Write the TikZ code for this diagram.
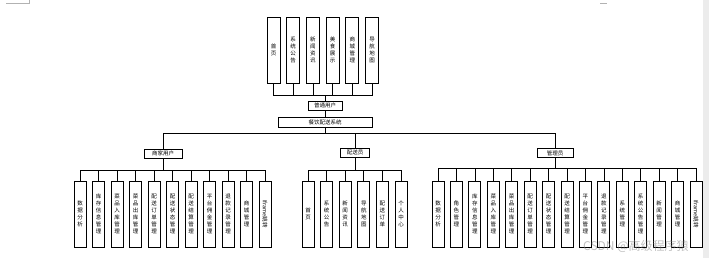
\documentclass[tikz,border=0pt]{standalone}
\usepackage{fontspec}
\usepackage{graphicx}
\newfontfamily\cjk{Noto Sans CJK SC}
\XeTeXlinebreaklocale "zh"
\XeTeXlinebreakskip=0pt plus 1pt
\newcommand{\iframetext}{\rotatebox{-90}{Iframe跳转}}
\tikzset{
  leaf/.style={draw, line width=0.9pt, minimum width=12pt, minimum height=66pt,
    inner sep=0pt, text width=6pt, align=center,
    font=\cjk\fontsize{5.5}{7}\selectfont},
  head/.style={draw, line width=0.9pt, minimum height=9pt, inner sep=1pt,
    font=\cjk\fontsize{5.5}{6}\selectfont},
  link/.style={line width=0.7pt},
}
\begin{document}
\begin{tikzpicture}[x=1pt, y=-1pt]
    \useasboundingbox (0,0) rectangle (709,258);

    % =================================================================
    % PAGE EDGE AND CROP MARKS
    % =================================================================
    \fill[gray!15] (703,0) rectangle (709,258);
    \draw[gray!60, line width=0.6pt] (6,3) -- (29,3) -- (29,0);
    \draw[gray!60, line width=0.6pt] (600,3) -- (607,3);

    % =================================================================
    % PART 1: ORDINARY USER (ABOVE THE SYSTEM BOX)
    % =================================================================
    \node[head, minimum width=34pt] (user) at (325,105.5) {普通用户};
    \node[head, minimum width=94pt, minimum height=10pt] (sys) at (325,122) {餐饮配送系统};
    \draw[link] (user.south) -- (sys.north);

    \foreach \t [count=\i] in {首页,系统公告,新闻资讯,美食展示,商城管理,导航地图} {
        \node[leaf, minimum width=13pt] (u\i) at ({273.5+19.7*(\i-1)},50) {\t};
        \draw[link] (user.north) -- (user.north |- 0,95) -| (u\i.south);
    }

    % =================================================================
    % PART 2: SECOND LEVEL ROLES
    % =================================================================
    \node[head, minimum width=38pt] (shop) at (163,153.5) {商家用户};
    \node[head, minimum width=29pt] (rider) at (355,152.5) {配送员};
    \node[head, minimum width=36pt] (admin) at (555,153) {管理员};

    \foreach \r in {shop,rider,admin} {
        \draw[link] (sys.south) -- (sys.south |- 0,133) -| (\r.north);
    }

    % Merchant menu
    \foreach \t [count=\i] in {数据分析,库存信息管理,菜品入库管理,菜品出库管理,配送订单管理,
        配送状态管理,配送结算管理,平台佣金管理,退款记录管理,商城管理,\iframetext} {
        \node[leaf] (m\i) at ({80+18.5*(\i-1)},214) {\t};
        \draw[link] (shop.south) -- (shop.south |- 0,170) -| (m\i.north);
    }

    % Courier menu
    \foreach \t [count=\i] in {首页,系统公告,新闻资讯,导航地图,配送订单,个人中心} {
        \node[leaf] (c\i) at ({308+18.6*(\i-1)},214) {\t};
        \draw[link] (rider.south) -- (rider.south |- 0,170) -| (c\i.north);
    }

    % Administrator menu
    \foreach \t [count=\i] in {数据分析,角色管理,库存信息管理,菜品入库管理,菜品出库管理,
        配送订单管理,配送状态管理,配送结算管理,平台佣金管理,退款记录管理,系统管理,
        系统公告管理,新闻管理,商城管理,\iframetext} {
        \node[leaf] (a\i) at ({438+18.43*(\i-1)},214) {\t};
        \draw[link] (admin.south) -- (admin.south |- 0,168) -| (a\i.north);
    }

    % Watermark
    \node[anchor=west, text=gray, opacity=0.5, inner sep=0pt,
          font=\cjk\fontsize{12}{12}\selectfont] (mark) at (583,246) {CSDN @高级程序猿};

\end{tikzpicture}
\end{document}
